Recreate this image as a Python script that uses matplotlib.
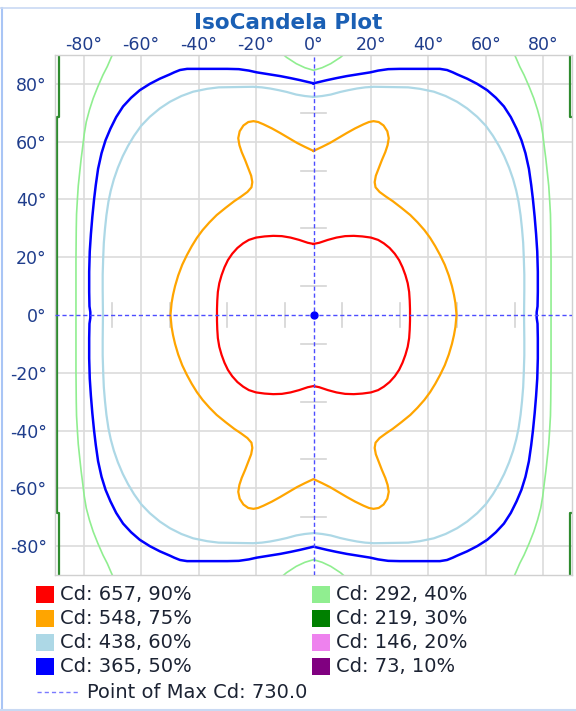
import numpy as np
import matplotlib
matplotlib.use("Agg")
import matplotlib.pyplot as plt
from matplotlib.lines import Line2D
from matplotlib.patches import Rectangle

# ---------------- data (degrees) ----------------
title = "IsoCandela Plot"
tick_vals = [-80, -60, -40, -20, 0, 20, 40, 60, 80]
minor_marks = [10, 30, 50, 70]

cd_values = [657, 548, 438, 365, 292, 219, 146, 73]
cd_pcts = [90, 75, 60, 50, 40, 30, 20, 10]
cd_colors = ["#ff0000", "#ffa500", "#add8e6", "#0000ff",
             "#90ee90", "#008000", "#ee82ee", "#800080"]
max_cd = 730.0

# closed contours: first-quadrant trace from the top (x=0) to the right (y=0)
red_x = [0, 2, 5, 8, 11, 14, 17, 20, 22.5, 24.5, 26.5, 28.3, 29.8, 31.0, 32.0,
         32.8, 33.3, 33.5, 33.6, 33.6]
red_y = [24.6, 25.0, 26.0, 26.8, 27.3, 27.4, 27.2, 26.8, 26.0, 24.8, 23.2, 21.2,
         19.0, 16.5, 13.8, 11.0, 8.0, 5.0, 2.0, 0]

orange_x = [0, 3, 5.8, 8.7, 11.6, 14.5, 17.4, 19.3, 20.9, 22.7, 24.4, 25.7, 26.2,
            25.8, 25.0, 23.8, 22.7, 21.7, 21.3, 21.6, 23.0, 25.2, 27.6, 30.6, 33.7,
            36.2, 38.6, 40.6, 42.4, 44.1, 45.7, 47.1, 48.2, 48.9, 49.4, 49.8]
orange_y = [56.8, 58.2, 59.6, 61.3, 63.0, 64.6, 66.0, 66.8, 67.1, 66.8, 65.6, 63.6,
            61.2, 58.8, 56.4, 53.6, 50.8, 48.2, 46.0, 44.2, 42.6, 41.0, 39.4, 37.1,
            34.6, 32.1, 29.4, 26.7, 23.8, 20.7, 17.4, 13.7, 10.0, 7.0, 4.2, 0]

lblue_x = [0, 3, 6, 9.3, 12, 15.1, 18, 21, 33, 37, 41.9, 46, 50, 53.5, 57, 60,
           62.5, 64.6, 66.4, 68.1, 69.5, 70.6, 71.4, 72.1, 72.6, 73.0, 73.2, 73.4,
           73.4, 73.3]
lblue_y = [75.5, 75.8, 76.3, 77.2, 77.8, 78.4, 78.8, 79.0, 78.8, 78.3, 77.3, 75.8,
           73.8, 71.5, 68.6, 65.5, 62.0, 58.5, 55.0, 51.0, 47.0, 43.0, 39.2, 34.5,
           29.8, 25.0, 20.3, 14.0, 8.7, 0]

blue_x = [0, 4.7, 8, 11.6, 15.5, 19.8, 22.5, 26, 30, 44, 46.5, 48.5, 50, 53.5, 57,
          60.5, 63.5, 66.3, 68.7, 70.7, 72.4, 73.8, 75.0, 75.8, 76.4, 77.0, 77.5,
          77.9, 78.1, 78.1, 78.0, 77.7, 77.7]
blue_y = [80.2, 81.3, 82.0, 82.7, 83.3, 84.0, 84.6, 85.1, 85.2, 85.2, 84.8, 84.0,
          83.3, 81.8, 80.0, 77.8, 75.2, 72.2, 68.5, 64.5, 60.5, 56.0, 50.6, 45.0,
          40.0, 34.0, 28.0, 22.0, 15.0, 8.0, 3.0, 1.0, 0]

# open curves (40 %): side piece in first quadrant, top-centre piece
lgreen_side_x = [69.6, 70.5, 71.8, 73.3, 75.1, 76.7, 78.0, 79.1, 79.8, 80.3, 80.9,
                 81.4, 81.9, 82.2, 82.5, 82.6, 82.7, 82.7, 82.7]
lgreen_side_y = [91.0, 89.0, 86.0, 83.1, 79.0, 75.0, 71.0, 66.9, 62.8, 58.7, 54.0,
                 49.4, 44.7, 40.1, 34.9, 29.7, 19.2, 8.7, 0]
lgreen_top_x = [0, 3, 6, 9.4, 11.5]
lgreen_top_y = [84.7, 85.6, 87.0, 89.2, 91.0]

# 30 % contour hugging the frame
dgreen_left_x = [-88.6, -88.6, -89.2, -89.2, -88.6, -88.6]
dgreen_left_y = [91, 68.5, 68.5, -68.5, -68.5, -91]
dgreen_rt_x = [89.4, 89.4, 91.0]
dgreen_rt_y = [91, 68.5, 68.5]
dgreen_rb_x = [91.0, 89.4, 89.4]
dgreen_rb_y = [-68.5, -68.5, -91]


def closed_from_quadrant(qx, qy):
    qx = np.asarray(qx, float)
    qy = np.asarray(qy, float)
    x = np.concatenate([qx, qx[::-1], -qx, -qx[::-1]])
    y = np.concatenate([qy, -qy[::-1], -qy, qy[::-1]])
    return x, y


# ---------------- figure ----------------
W, H = 576, 711
fig = plt.figure(figsize=(W / 100, H / 100), dpi=100)
fig.patch.set_facecolor("white")

ax = fig.add_axes([55 / W, (H - 575) / H, 517 / W, 520 / H])
ax.set_xlim(-90, 90)
ax.set_ylim(-90, 90)

tick_color = "#1f3d8c"
grid_color = "#dcdcdc"

ax.xaxis.tick_top()
ax.set_xticks(tick_vals)
ax.set_yticks(tick_vals)
ax.set_xticklabels([f"{t}°" for t in tick_vals])
ax.set_yticklabels([f"{t}°" for t in tick_vals])
ax.tick_params(axis="both", length=0, labelsize=12.5, labelcolor=tick_color)
ax.tick_params(axis="x", pad=1)
ax.tick_params(axis="y", pad=6)
for sp in ax.spines.values():
    sp.set_color("#d0d0d0")
    sp.set_linewidth(1.0)

# grid (every 20 deg, except centre which is the dashed cross)
for t in tick_vals:
    if t == 0:
        continue
    ax.axvline(t, color=grid_color, lw=1.2, zorder=0)
    ax.axhline(t, color=grid_color, lw=1.2, zorder=0)

# short marks along the centre cross
half = 4.2
for m in minor_marks:
    for s in (m, -m):
        ax.plot([-half, half], [s, s], color="#d4d4d4", lw=1.2, zorder=1)
        ax.plot([s, s], [-half, half], color="#d4d4d4", lw=1.2, zorder=1)

# closed contours
for (qx, qy), col, lw in [((blue_x, blue_y), cd_colors[3], 1.8),
                           ((lblue_x, lblue_y), cd_colors[2], 1.6),
                           ((orange_x, orange_y), cd_colors[1], 1.6),
                           ((red_x, red_y), cd_colors[0], 1.6)]:
    x, y = closed_from_quadrant(qx, qy)
    ax.plot(x, y, color=col, lw=lw, zorder=3, solid_joinstyle="round")

# 40 % pieces (mirrored into every quadrant)
gx = np.asarray(lgreen_side_x, float)
gy = np.asarray(lgreen_side_y, float)
side_x = np.concatenate([gx, gx[::-1]])
side_y = np.concatenate([gy, -gy[::-1]])
ax.plot(side_x, side_y, color=cd_colors[4], lw=1.2, zorder=2)
ax.plot(-side_x, side_y, color=cd_colors[4], lw=1.2, zorder=2)
tx = np.asarray(lgreen_top_x, float)
ty = np.asarray(lgreen_top_y, float)
top_x = np.concatenate([-tx[::-1], tx])
top_y = np.concatenate([ty[::-1], ty])
ax.plot(top_x, top_y, color=cd_colors[4], lw=1.2, zorder=2)
ax.plot(top_x, -top_y, color=cd_colors[4], lw=1.2, zorder=2)

# 30 % pieces
ax.plot(dgreen_left_x, dgreen_left_y, color="#2e8b2e", lw=1.6, zorder=2)
ax.plot(dgreen_rt_x, dgreen_rt_y, color="#2e8b2e", lw=1.6, zorder=2)
ax.plot(dgreen_rb_x, dgreen_rb_y, color="#2e8b2e", lw=1.6, zorder=2)

# point of max cross
dash_col = "#4d4dff"
ax.axhline(0, color=dash_col, lw=1.0, ls=(0, (3, 2)), zorder=4)
ax.axvline(0, color=dash_col, lw=1.0, ls=(0, (3, 2)), zorder=4)
ax.plot([0], [0], "o", color="#0000ff", ms=5, zorder=5)

# ---------------- title ----------------
fig.text(0.5, 1 - 23 / H, title, ha="center", va="center",
         fontsize=15.5, fontweight="bold", color="#1a5fb4")

# ---------------- legend (manual) ----------------
text_col = "#1c2333"
row_y = [594, 618, 642, 666]
col_sw_x = [36, 312]
sw_w, sw_h = 18, 17
for i, (v, p, c) in enumerate(zip(cd_values, cd_pcts, cd_colors)):
    col = i // 4
    row = i % 4
    yc = row_y[row]
    x0 = col_sw_x[col]
    fig.add_artist(Rectangle((x0 / W, 1 - (yc + sw_h / 2) / H), sw_w / W, sw_h / H,
                             transform=fig.transFigure, facecolor=c,
                             edgecolor="none"))
    fig.text((x0 + sw_w + 6) / W, 1 - yc / H, f"Cd: {v}, {p}%", ha="left",
             va="center", fontsize=14, color=text_col)

yl = 692
fig.add_artist(Line2D([37 / W, 80 / W], [1 - yl / H, 1 - yl / H],
                      transform=fig.transFigure, color="#7a7aff", lw=1.0,
                      ls=(0, (3, 2.2))))
fig.text(87 / W, 1 - yl / H, f"Point of Max Cd: {max_cd:.1f}", ha="left",
         va="center", fontsize=14, color=text_col)

# ---------------- outer panel frame ----------------
frame_col = "#a9c5f5"
fig.add_artist(Line2D([1.5 / W, 1.5 / W], [1 - 8 / H, 1 - 709.5 / H],
                      transform=fig.transFigure, color=frame_col, lw=1.5))
fig.add_artist(Line2D([0, 1], [1 - 8 / H, 1 - 8 / H],
                      transform=fig.transFigure, color="#c9d9f3", lw=1.2))
fig.add_artist(Line2D([0, 1], [1 - 709.5 / H, 1 - 709.5 / H],
                      transform=fig.transFigure, color="#c9d9f3", lw=1.5))

fig.savefig("out.png", dpi=100, facecolor="white")
